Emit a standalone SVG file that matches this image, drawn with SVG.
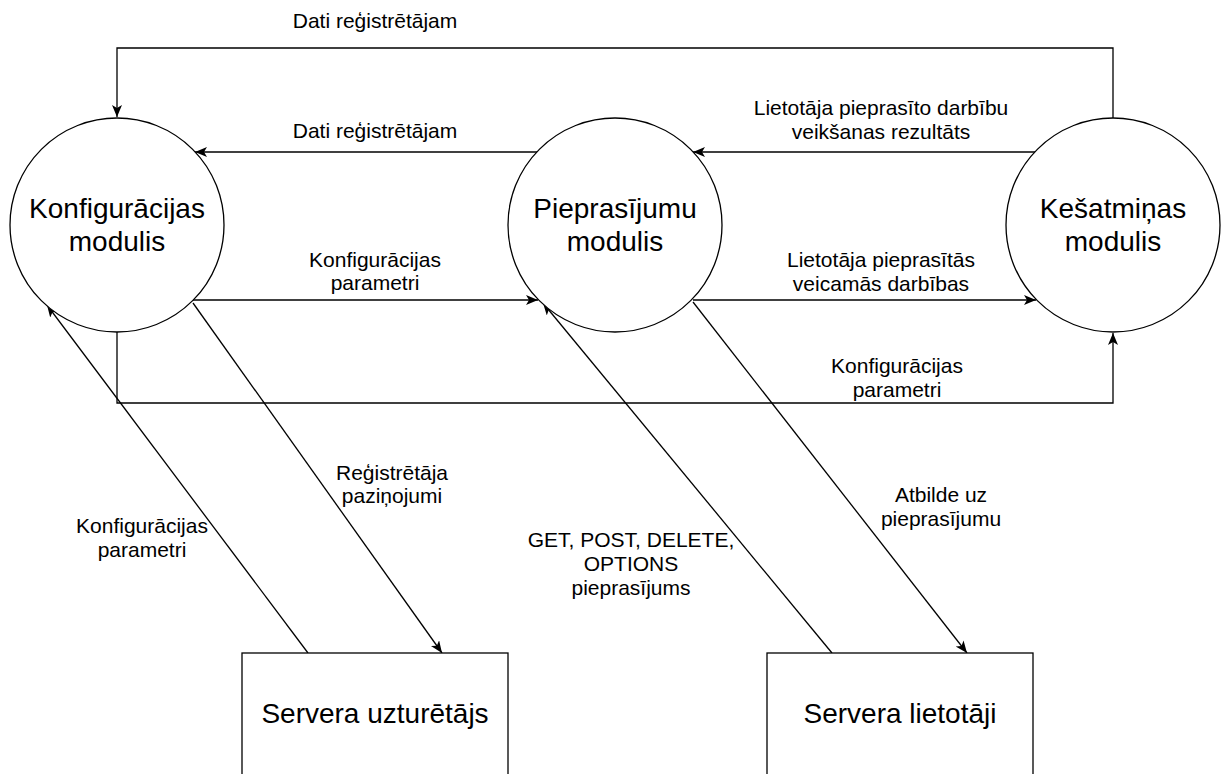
<svg xmlns="http://www.w3.org/2000/svg" width="1222" height="774" viewBox="0 0 1222 774">
<style>
.node{fill:#fff;stroke:#000;stroke-width:1.3}
.nt{font-family:"Liberation Sans",Arial,sans-serif;font-size:28px;fill:#000;text-anchor:middle}
.lt{font-family:"Liberation Sans",Arial,sans-serif;font-size:21px;fill:#000;text-anchor:middle}
.edge{fill:none;stroke:#000;stroke-width:1.3;marker-end:url(#arr)}
</style>
<defs>
<marker id="arr" markerUnits="userSpaceOnUse" markerWidth="14" markerHeight="12" refX="12" refY="5" orient="auto" viewBox="0 0 14 12">
<path d="M0,0 L12,5 L0,10 L3,5 Z" fill="#000"/>
</marker>
</defs>
<rect width="1222" height="774" fill="#fff"/>
<g id="connectors">
<path class="edge" d="M1113,118 V48 H117 V117"/>
<path class="edge" d="M537,152 H195"/>
<path class="edge" d="M1035,152 H693"/>
<path class="edge" d="M193,300 H538"/>
<path class="edge" d="M693,300 H1036"/>
<path class="edge" d="M117,332 V403 H1113 V333"/>
<path class="edge" d="M308,653 L47,305"/>
<path class="edge" d="M193,303 L442,653"/>
<path class="edge" d="M832,653 L543,303"/>
<path class="edge" d="M693,302 L967,653"/>
<text class="lt" x="375" y="28">Dati reģistrētājam</text>
<text class="lt" x="375" y="138">Dati reģistrētājam</text>
<text class="lt" x="881" y="115">Lietotāja pieprasīto darbību</text>
<text class="lt" x="881" y="139">veikšanas rezultāts</text>
<text class="lt" x="375" y="267">Konfigurācijas</text>
<text class="lt" x="375" y="290">parametri</text>
<text class="lt" x="881" y="267">Lietotāja pieprasītās</text>
<text class="lt" x="881" y="291">veicamās darbības</text>
<text class="lt" x="897" y="373">Konfigurācijas</text>
<text class="lt" x="897" y="397">parametri</text>
<text class="lt" x="392" y="480">Reģistrētāja</text>
<text class="lt" x="392" y="503">paziņojumi</text>
<text class="lt" x="142" y="533">Konfigurācijas</text>
<text class="lt" x="142" y="557">parametri</text>
<text class="lt" x="631" y="547">GET, POST, DELETE,</text>
<text class="lt" x="631" y="571">OPTIONS</text>
<text class="lt" x="631" y="595">pieprasījums</text>
<text class="lt" x="941" y="502">Atbilde uz</text>
<text class="lt" x="941" y="526">pieprasījumu</text>
</g>
<g id="konfiguracijas">
<circle class="node" cx="117" cy="225" r="107"/>
<text class="nt" x="117" y="218">Konfigurācijas</text>
<text class="nt" x="117" y="251">modulis</text>
</g>
<g id="pieprasijumu">
<circle class="node" cx="615" cy="225" r="107"/>
<text class="nt" x="615" y="218">Pieprasījumu</text>
<text class="nt" x="615" y="251">modulis</text>
</g>
<g id="kesatminas">
<circle class="node" cx="1113" cy="225" r="107"/>
<text class="nt" x="1113" y="218">Kešatmiņas</text>
<text class="nt" x="1113" y="251">modulis</text>
</g>
<g id="uzturetajs">
<rect class="node" x="242" y="653" width="266" height="140"/>
<text class="nt" x="375" y="723">Servera uzturētājs</text>
</g>
<g id="lietotaji">
<rect class="node" x="767" y="653" width="266" height="140"/>
<text class="nt" x="900" y="723">Servera lietotāji</text>
</g>
</svg>
